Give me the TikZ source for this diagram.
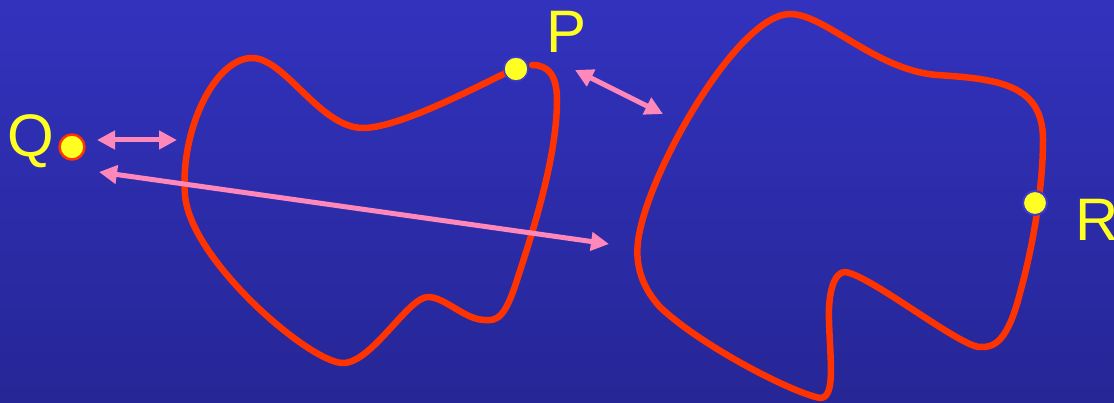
\documentclass[tikz,border=0pt]{standalone}
\usepackage{fontspec}
\setmainfont{Liberation Sans}
\usetikzlibrary{arrows.meta}
\definecolor{bgtop}{RGB}{50,50,190}
\definecolor{bgbot}{RGB}{38,38,150}
\definecolor{curvered}{RGB}{255,51,0}
\definecolor{dotyellow}{RGB}{255,255,34}
\definecolor{arrowpink}{RGB}{255,136,187}
\definecolor{ringblue}{RGB}{60,60,200}
\tikzset{
  blob/.style={draw=curvered, line width=6.5pt, line join=round, line cap=round},
  ptdot/.style={circle, fill=dotyellow, minimum size=24pt, inner sep=0pt},
  ptlabel/.style={text=dotyellow, font=\fontsize{60}{70}\selectfont, inner sep=0pt, anchor=base west},
  dbl/.style={draw=arrowpink, line width=5pt, {Triangle[length=18pt,width=18pt]}-{Triangle[length=18pt,width=18pt]}}
}
\begin{document}
\begin{tikzpicture}[x=1pt,y=-1pt]
\shade[top color=bgtop, bottom color=bgbot] (0,0) rectangle (1114,403);
\useasboundingbox (0,0) rectangle (1114,403);
% left curve
\draw[blob] (532,65)
 .. controls (548,65) and (557,75) .. (557,100)
 .. controls (557,160) and (530,240) .. (517,280)
 .. controls (505,318) and (497,321) .. (485,320)
 .. controls (465,320) and (445,297) .. (428,297)
 .. controls (408,297) and (372,363) .. (343,363)
 .. controls (310,363) and (190,260) .. (185,195)
 .. controls (180,130) and (215,58) .. (252,58)
 .. controls (285,58) and (320,128) .. (363,128)
 .. controls (400,128) and (480,85) .. (516,68);
% right curve
\draw[blob] (790,14)
 .. controls (825,14) and (875,70) .. (937,75)
 .. controls (1000,79) and (1043,85) .. (1043,140)
 .. controls (1043,190) and (1032,250) .. (1020,293)
 .. controls (1008,340) and (995,348) .. (980,347)
 .. controls (960,347) and (870,275) .. (845,272)
 .. controls (835,272) and (828,290) .. (829,320)
 .. controls (830,360) and (836,398) .. (820,398)
 .. controls (790,392) and (700,345) .. (660,307)
 .. controls (640,285) and (633,260) .. (640,230)
 .. controls (655,160) and (740,14) .. (790,14) -- cycle;
% points
\node[ptdot, draw=ringblue, line width=1.5pt] (P) at (516,69) {};
\node[ptdot, draw=ringblue, line width=2pt] (R) at (1035,203) {};
\node[ptdot, draw=curvered, line width=2.5pt, minimum size=25pt] (Q) at (72,147) {};
\node[ptlabel] (Plab) at (546,53) {P};
\node[ptlabel] (Qlab) at (7,157) {Q};
\node[ptlabel] (Rlab) at (1075,241) {R};
% arrows
\coordinate (a1) at (97,140);
\coordinate (a2) at (177,140);
\coordinate (b1) at (99,172);
\coordinate (b2) at (609,244);
\coordinate (c1) at (575,70);
\coordinate (c2) at (663,114);
\draw[dbl] (a1) -- (a2);
\draw[dbl] (b1) -- (b2);
\draw[dbl] (c1) -- (c2);
\end{tikzpicture}
\end{document}
